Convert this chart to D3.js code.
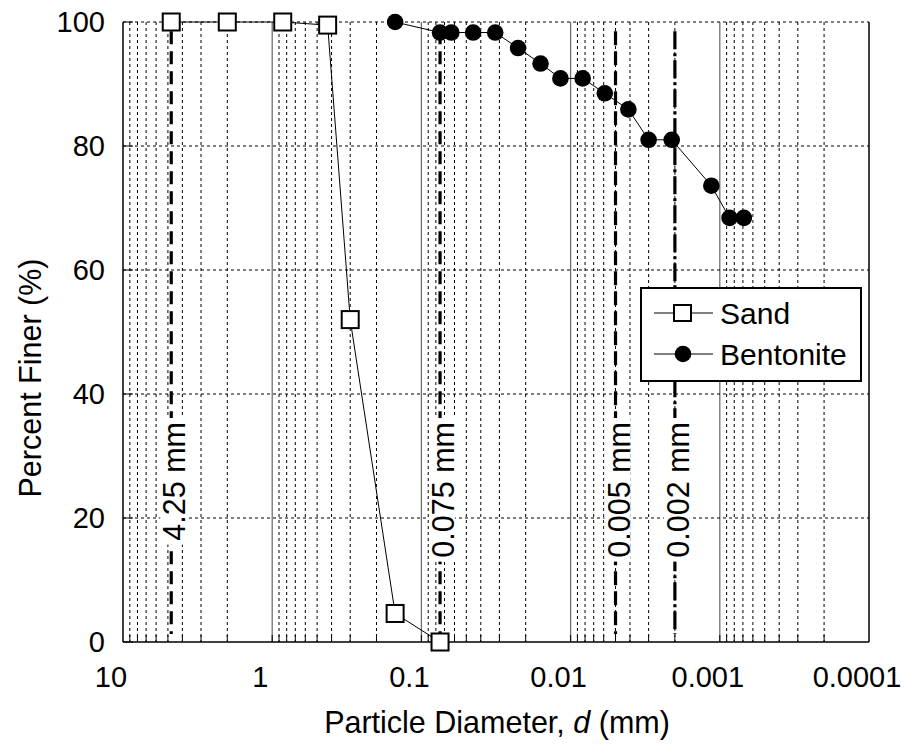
<!DOCTYPE html>
<html>
<head>
<meta charset="utf-8">
<script src="https://cdn.jsdelivr.net/npm/d3@7"></script>
<style>
  body { margin: 0; background: #fff; }
  text { font-family: "Liberation Sans", Arial, sans-serif; fill: #000; }
</style>
</head>
<body>
<script>
const width = 907;
const height = 751;

// sieve / hydrometer results
const sandDiameter = [4.75, 2.0, 0.85, 0.425, 0.3, 0.15, 0.075];
const sandFiner = [100, 100, 100, 99.5, 52, 4.6, 0];

const bentDiameter = [0.15, 0.075, 0.063, 0.045, 0.032, 0.0225, 0.0159, 0.0117, 0.0083,
  0.0059, 0.0041, 0.003, 0.0021, 0.00114, 0.00086, 0.00069];
const bentFiner = [100, 98.3, 98.3, 98.3, 98.3, 95.8, 93.3, 90.9, 90.9,
  88.5, 85.9, 81.0, 81.0, 73.6, 68.4, 68.4];

const xTicks = [10, 1, 0.1, 0.01, 0.001, 0.0001];
const xTickLabels = ["10", "1", "0.1", "0.01", "0.001", "0.0001"];
const yTicks = [0, 20, 40, 60, 80, 100];

const refDiameter = [4.75, 0.075, 0.005, 0.002];
const refLabels = ["4.25 mm", "0.075 mm", "0.005 mm", "0.002 mm"];
const refDash = ["13,7", "13,7", "14,6", "18,4,3,4"];

const margin = { top: 22, right: 38, bottom: 109, left: 123 };

const x = d3.scaleLog()
  .domain([10, 0.0001])
  .range([margin.left, width - margin.right]);

const y = d3.scaleLinear()
  .domain([0, 100])
  .range([height - margin.bottom, margin.top]);

const svg = d3.select("body")
  .append("svg")
  .attr("width", width)
  .attr("height", height);

// minor vertical grid (2..9 in every decade)
const minor = [];
for (let e = -4; e < 1; e++) {
  for (let k = 2; k <= 9; k++) minor.push(k * Math.pow(10, e));
}
const major = [1, 0.1, 0.01, 0.001];

svg.append("g")
  .selectAll("line")
  .data(minor)
  .join("line")
  .attr("x1", d => x(d)).attr("x2", d => x(d))
  .attr("y1", y(100)).attr("y2", y(0))
  .attr("stroke", "#000")
  .attr("stroke-width", 1)
  .attr("stroke-dasharray", "3,3");

svg.append("g")
  .selectAll("line")
  .data(major)
  .join("line")
  .attr("x1", d => x(d)).attr("x2", d => x(d))
  .attr("y1", y(100)).attr("y2", y(0))
  .attr("stroke", "#707070")
  .attr("stroke-width", 1.3);

// horizontal grid
svg.append("g")
  .selectAll("line")
  .data(yTicks.filter(d => d > 0))
  .join("line")
  .attr("x1", x(10)).attr("x2", x(0.0001))
  .attr("y1", d => y(d)).attr("y2", d => y(d))
  .attr("stroke", "#000")
  .attr("stroke-width", 1)
  .attr("stroke-dasharray", "3,3");

// reference diameters
const ref = svg.append("g")
  .selectAll("g")
  .data(refDiameter)
  .join("g");

ref.append("line")
  .attr("x1", d => x(d)).attr("x2", d => x(d))
  .attr("y1", y(98.5)).attr("y2", y(1.3))
  .attr("stroke", "#000")
  .attr("stroke-width", 3.2)
  .attr("stroke-dasharray", (d, i) => refDash[i]);

const labelTop = 422;
ref.each(function(d, i) {
  const g = d3.select(this);
  const t = g.append("text")
    .attr("transform", `translate(${x(d) + 3},${labelTop}) rotate(-90)`)
    .attr("text-anchor", "end")
    .attr("dominant-baseline", "central")
    .style("font-size", "30.5px")
    .text(refLabels[i]);
  const len = t.node().getComputedTextLength();
  g.insert("rect", "text")
    .attr("x", x(d) - 11)
    .attr("y", labelTop - 4)
    .attr("width", 26)
    .attr("height", len + 8)
    .attr("fill", "#fff");
});

// axes frame
svg.append("line")
  .attr("x1", x(10)).attr("x2", x(10))
  .attr("y1", y(100)).attr("y2", y(0))
  .attr("stroke", "#000").attr("stroke-width", 1.5);
svg.append("line")
  .attr("x1", x(0.0001)).attr("x2", x(0.0001))
  .attr("y1", y(100)).attr("y2", y(0))
  .attr("stroke", "#000").attr("stroke-width", 1.5);
svg.append("line")
  .attr("x1", x(10)).attr("x2", x(0.0001))
  .attr("y1", y(0)).attr("y2", y(0))
  .attr("stroke", "#000").attr("stroke-width", 1.5);

// inward ticks
svg.append("g")
  .selectAll("line")
  .data(minor.concat(major))
  .join("line")
  .attr("x1", d => x(d)).attr("x2", d => x(d))
  .attr("y1", y(0)).attr("y2", y(0) - 7)
  .attr("stroke", "#000");

svg.append("g")
  .selectAll("line")
  .data(yTicks)
  .join("line")
  .attr("x1", x(10)).attr("x2", x(10) + 10)
  .attr("y1", d => y(d)).attr("y2", d => y(d))
  .attr("stroke", "#000");

// tick labels
svg.append("g")
  .selectAll("text")
  .data(xTicks)
  .join("text")
  .attr("x", d => x(d) - 12)
  .attr("y", 687)
  .attr("text-anchor", "middle")
  .style("font-size", "29px")
  .text((d, i) => xTickLabels[i]);

svg.append("g")
  .selectAll("text")
  .data(yTicks)
  .join("text")
  .attr("x", 105)
  .attr("y", d => y(d))
  .attr("dy", "0.35em")
  .attr("text-anchor", "end")
  .style("font-size", "29px")
  .text(d => d);

// axis titles
const xTitle = svg.append("text")
  .attr("x", 497)
  .attr("y", 733)
  .attr("text-anchor", "middle")
  .style("font-size", "30.5px");
xTitle.append("tspan").text("Particle Diameter, ");
xTitle.append("tspan").style("font-style", "italic").text("d");
xTitle.append("tspan").text(" (mm)");

svg.append("text")
  .attr("transform", "translate(41,378) rotate(-90)")
  .attr("text-anchor", "middle")
  .style("font-size", "30.5px")
  .text("Percent Finer (%)");

// data series
const line = d3.line()
  .x(d => x(d[0]))
  .y(d => y(d[1]));

const sand = sandDiameter.map((d, i) => [d, sandFiner[i]]);
const bent = bentDiameter.map((d, i) => [d, bentFiner[i]]);

svg.append("path")
  .datum(sand)
  .attr("d", line)
  .attr("fill", "none")
  .attr("stroke", "#000")
  .attr("stroke-width", 1);

svg.append("path")
  .datum(bent)
  .attr("d", line)
  .attr("fill", "none")
  .attr("stroke", "#000")
  .attr("stroke-width", 1);

svg.append("g")
  .selectAll("rect")
  .data(sand)
  .join("rect")
  .attr("x", d => x(d[0]) - 8.5)
  .attr("y", d => y(d[1]) - 8.5)
  .attr("width", 17)
  .attr("height", 17)
  .attr("fill", "#fff")
  .attr("stroke", "#000")
  .attr("stroke-width", 2);

svg.append("g")
  .selectAll("circle")
  .data(bent)
  .join("circle")
  .attr("cx", d => x(d[0]))
  .attr("cy", d => y(d[1]))
  .attr("r", 8.3)
  .attr("fill", "#000");

// legend
const legend = svg.append("g").attr("transform", "translate(641,288)");
legend.append("rect")
  .attr("width", 220)
  .attr("height", 93)
  .attr("fill", "#fff")
  .attr("stroke", "#000")
  .attr("stroke-width", 2);

const rows = [
  { name: "Sand", cy: 25 },
  { name: "Bentonite", cy: 66 }
];
const item = legend.selectAll("g")
  .data(rows)
  .join("g")
  .attr("transform", d => `translate(0,${d.cy})`);

item.append("line")
  .attr("x1", 13).attr("x2", 72)
  .attr("stroke", "#000").attr("stroke-width", 1);

item.filter((d, i) => i === 0).append("rect")
  .attr("x", 33).attr("y", -8)
  .attr("width", 17).attr("height", 16)
  .attr("fill", "#fff").attr("stroke", "#000").attr("stroke-width", 2);

item.filter((d, i) => i === 1).append("circle")
  .attr("cx", 42).attr("r", 8.3)
  .attr("fill", "#000");

item.append("text")
  .attr("x", 79)
  .attr("dy", "0.35em")
  .style("font-size", "30px")
  .text(d => d.name);
</script>
</body>
</html>
